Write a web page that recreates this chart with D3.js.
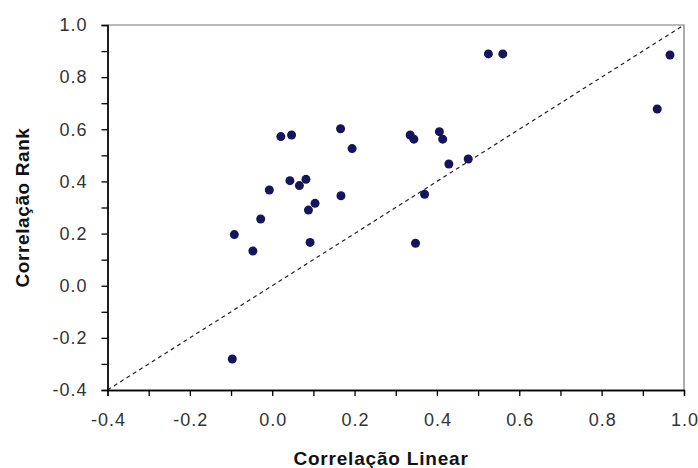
<!DOCTYPE html>
<html lang="en">
<head>
    <meta charset="UTF-8">
    <title>correlacao scatter</title>
    <script src="https://cdn.jsdelivr.net/npm/d3@7/dist/d3.min.js"></script>
    <style>
        body { margin: 0; background: #fff; }
        g.axis text { font-family: "Liberation Sans", Arial, sans-serif; font-size: 18px; letter-spacing: 1px; fill: #333; }
        g.axis path, g.axis line { stroke: #000; stroke-width: 1.3px; }
        .title { font-family: "Liberation Sans", Arial, sans-serif; font-size: 19px; font-weight: bold; fill: #111; }
    </style>
</head>
<body>

<svg width="698" height="468"></svg>

<script>

    // values
    let linearCorr = [-0.097, -0.092, -0.047, -0.028, -0.007, 0.021, 0.047, 0.043, 0.066, 0.082,
        0.088, 0.104, 0.092, 0.166, 0.194, 0.167, 0.335, 0.344, 0.348, 0.370,
        0.406, 0.414, 0.429, 0.476, 0.525, 0.560, 0.935, 0.966]
    let rankCorr = [-0.281, 0.196, 0.133, 0.256, 0.367, 0.572, 0.578, 0.403, 0.384, 0.408,
        0.290, 0.316, 0.166, 0.602, 0.526, 0.345, 0.578, 0.562, 0.163, 0.351,
        0.591, 0.562, 0.467, 0.486, 0.889, 0.889, 0.678, 0.885]
    let majorTicks = [-0.4, -0.2, 0.0, 0.2, 0.4, 0.6, 0.8, 1.0]
    let minorTicks = [-0.3, -0.1, 0.1, 0.3, 0.5, 0.7, 0.9]
    let xTitle = "Correlação Linear"
    let yTitle = "Correlação Rank"

    let svg = d3.select('svg')
    let plot = {left: 107.5, right: 684, top: 25, bottom: 390}

    let xScale = d3.scaleLinear().domain([-0.4, 1.0]).range([plot.left, plot.right])
    let yScale = d3.scaleLinear().domain([-0.4, 1.0]).range([plot.bottom, plot.top])

    let data = d3.zip(linearCorr, rankCorr)
    // plain hyphen for negatives, like the original
    let fmt = function (d) { return d.toFixed(1) }

    // top and right frame
    svg.append('path')
        .attr('d', 'M' + plot.left + ',' + plot.top + 'H' + plot.right + 'V' + plot.bottom)
        .attr('fill', 'none').attr('stroke', '#777').attr('stroke-width', 1.2)

    // 1:1 line
    svg.append('line')
        .attr('x1', xScale(-0.4)).attr('y1', yScale(-0.4))
        .attr('x2', xScale(1.0)).attr('y2', yScale(1.0))
        .attr('stroke', '#222').attr('stroke-width', 1.2)
        .attr('stroke-dasharray', '4,3.5')

    // axes (minor ticks first, no labels)
    svg.append('g').attr('class', 'axis')
        .attr('transform', 'translate(0,' + plot.bottom + ')')
        .call(d3.axisBottom(xScale).tickValues(minorTicks).tickSize(6).tickFormat(''))
    svg.append('g').attr('class', 'axis')
        .attr('transform', 'translate(' + plot.left + ',0)')
        .call(d3.axisLeft(yScale).tickValues(minorTicks).tickSize(6).tickFormat(''))

    let xAxis = svg.append('g').attr('class', 'axis')
        .attr('transform', 'translate(0,' + plot.bottom + ')')
        .call(d3.axisBottom(xScale).tickValues(majorTicks).tickSize(6).tickSizeOuter(0)
            .tickPadding(17).tickFormat(fmt))
    xAxis.selectAll('text').attr('dx', '0.5px')
    svg.append('g').attr('class', 'axis')
        .attr('transform', 'translate(' + plot.left + ',0)')
        .call(d3.axisLeft(yScale).tickValues(majorTicks).tickSize(6).tickSizeOuter(0)
            .tickPadding(14).tickFormat(fmt))

    // points
    svg.append('g').selectAll('circle').data(data).join('circle')
        .attr('cx', function (d) { return xScale(d[0]) })
        .attr('cy', function (d) { return yScale(d[1]) })
        .attr('r', 4.5)
        .attr('fill', '#16145c')

    // titles
    svg.append('text').attr('class', 'title')
        .attr('x', 381).attr('y', 465)
        .attr('text-anchor', 'middle')
        .style('letter-spacing', '0.8px')
        .text(xTitle)
    svg.append('text').attr('class', 'title')
        .attr('transform', 'translate(29,' + (plot.top + plot.bottom) / 2 + ') rotate(-90)')
        .attr('text-anchor', 'middle')
        .style('letter-spacing', '0.6px')
        .text(yTitle)

</script>

</body>
</html>
